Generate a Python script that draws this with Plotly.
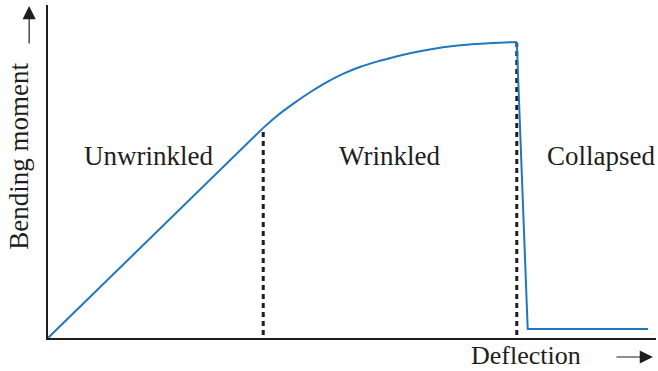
import plotly.graph_objects as go

# Moment-deflection response of a thin-walled tube in bending (normalized units)
deflection = [0.0, 3.54, 3.76, 4.03, 4.31, 4.58, 4.86, 5.13, 5.41, 5.68, 5.95,
              6.23, 6.50, 6.78, 7.05, 7.32, 7.71, 7.89, 9.87]
moment = [0.0, 6.31, 6.66, 7.03, 7.38, 7.68, 7.94, 8.14, 8.30, 8.43, 8.55,
          8.65, 8.73, 8.79, 8.83, 8.86, 8.89, 0.27, 0.27]
KNEE, PEAK = 1, 16  # indices where wrinkling starts and where collapse occurs

# Regime boundaries: onset of wrinkling and collapse
boundary_x = [3.54, 7.71]
boundary_y = [6.22, 8.86]

region_labels = ["Unwrinkled", "Wrinkled", "Collapsed"]
region_x = [1.65, 5.61, 9.10]
region_y = [5.48, 5.48, 5.48]

x_title = "Deflection"
y_title = "Bending moment"

INK = "#1e1e1e"
BLUE = "#1f77bf"
FONT = "Liberation Serif, Times New Roman, serif"

fig = go.Figure()

for bx, by in zip(boundary_x, boundary_y):
    fig.add_trace(go.Scatter(
        x=[bx, bx], y=[0.09, by], mode="lines",
        line=dict(color=INK, width=3, dash="5px,4px"),
        hoverinfo="skip", showlegend=False,
    ))

# elastic branch, wrinkled (smooth) branch, collapse and post-collapse branch
segments = [
    (deflection[:KNEE + 1], moment[:KNEE + 1], "linear"),
    (deflection[KNEE:PEAK + 1], moment[KNEE:PEAK + 1], "spline"),
    (deflection[PEAK:], moment[PEAK:], "linear"),
]
for sx, sy, shape in segments:
    fig.add_trace(go.Scatter(
        x=sx, y=sy, mode="lines",
        line=dict(color=BLUE, width=2, shape=shape),
        showlegend=False,
    ))

annotations = []
for txt, lx, ly in zip(region_labels, region_x, region_y):
    annotations.append(dict(
        x=lx, y=ly, xref="x", yref="y", text=txt, showarrow=False,
        font=dict(family=FONT, size=27, color=INK),
        xanchor="center", yanchor="middle",
    ))

# Axis titles with their direction arrows
annotations.append(dict(
    x=0.787, y=-0.0526, xref="paper", yref="paper", text=x_title,
    showarrow=False, font=dict(family=FONT, size=26, color=INK),
    xanchor="center", yanchor="middle",
))
annotations.append(dict(
    x=-0.049, y=0.545, xref="paper", yref="paper", text=y_title,
    showarrow=False, textangle=-90,
    font=dict(family=FONT, size=27, color=INK),
    xanchor="center", yanchor="middle",
))
annotations.append(dict(
    x=0.995, y=-0.057, xref="paper", yref="paper", text="", showarrow=True,
    ax=-38, ay=0, arrowhead=2, arrowsize=2.2, arrowwidth=1.2,
    arrowcolor=INK, standoff=0,
))
annotations.append(dict(
    x=-0.031, y=0.997, xref="paper", yref="paper", text="", showarrow=True,
    ax=0, ay=39, arrowhead=2, arrowsize=2.2, arrowwidth=1.2,
    arrowcolor=INK, standoff=0,
))

fig.update_layout(
    width=658, height=371,
    margin=dict(l=48, r=2, t=5, b=33),
    paper_bgcolor="white", plot_bgcolor="white",
    annotations=annotations,
    xaxis=dict(range=[0, 10], showline=True, linecolor=INK, linewidth=2,
               showgrid=False, zeroline=False, showticklabels=False,
               ticks=""),
    yaxis=dict(range=[0, 10], showline=True, linecolor=INK, linewidth=2,
               showgrid=False, zeroline=False, showticklabels=False,
               ticks=""),
)

fig.write_html("out.html")
